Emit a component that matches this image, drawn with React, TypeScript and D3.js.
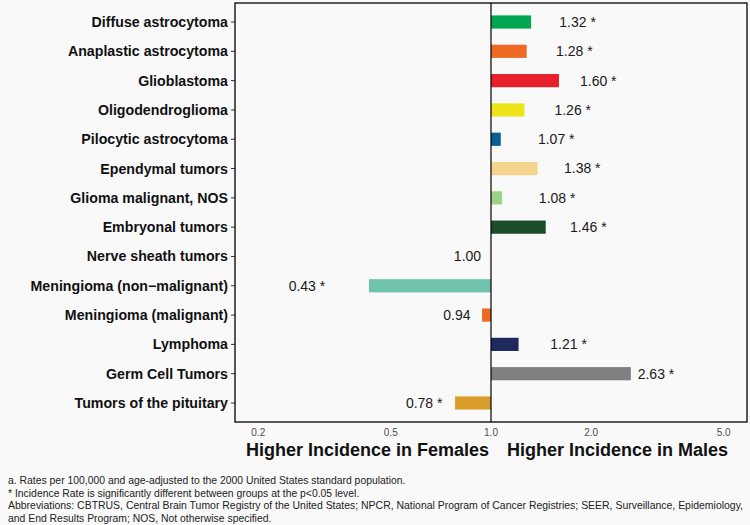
import React from "react";
import * as d3 from "d3";

const categories = [
  "Diffuse astrocytoma",
  "Anaplastic astrocytoma",
  "Glioblastoma",
  "Oligodendroglioma",
  "Pilocytic astrocytoma",
  "Ependymal tumors",
  "Glioma malignant, NOS",
  "Embryonal tumors",
  "Nerve sheath tumors",
  "Meningioma (non\u2212malignant)",
  "Meningioma (malignant)",
  "Lymphoma",
  "Germ Cell Tumors",
  "Tumors of the pituitary",
];
const ratios = [1.32, 1.28, 1.6, 1.26, 1.07, 1.38, 1.08, 1.46, 1.0, 0.43, 0.94, 1.21, 2.63, 0.78];
const significant = [true, true, true, true, true, true, true, true, false, true, false, true, true, true];
const barColors = [
  "#00a651", "#ee6a24", "#e8202a", "#eee31b", "#0b5e94", "#f5d58e", "#9ed289",
  "#1b4d2a", "#888888", "#70c3ac", "#ee6a24", "#1e2a5e", "#808080", "#d99d2b",
];
const xTicks = [0.2, 0.5, 1.0, 2.0, 5.0];
const footnotes = [
  "a.  Rates per 100,000 and age-adjusted to the 2000 United States standard population.",
  "* Incidence Rate is significantly different between groups at the p<0.05 level.",
  "Abbreviations: CBTRUS, Central Brain Tumor Registry of the United States; NPCR, National Program of Cancer Registries; SEER, Surveillance, Epidemiology,",
  "and End Results Program; NOS, Not otherwise specified.",
];

export default function App() {
  const W = 750, H = 525;
  const left = 235, right = 747, top = 3, bottom = 422;
  const lo = Math.log10(0.2), hi = Math.log10(5);
  const pad = (hi - lo) * 0.05;
  const x = d3.scaleLog().domain([Math.pow(10, lo - pad), Math.pow(10, hi + pad)]).range([left, right]);
  const y = d3
    .scalePoint<string>()
    .domain(categories)
    .range([22, 403]);
  const barH = 13.2;
  const x1 = x(1);

  return (
    <svg width={W} height={H} style={{ position: "absolute", left: 0, top: 0, background: "#f9f9f9" }}>
      <rect x={0} y={0} width={W} height={H} fill="#f9f9f9" />
      {categories.map((c, i) => {
        const v = ratios[i];
        const xv = x(v);
        const yy = y(c) as number;
        const labelX = v > 1 ? x(v + 0.5) : x(v - 0.15);
        return (
          <g key={c}>
            {v !== 1 && (
              <rect
                x={Math.min(xv, x1)}
                y={yy - barH / 2}
                width={Math.abs(xv - x1)}
                height={barH}
                fill={barColors[i]}
              />
            )}
            <text
              x={labelX}
              y={yy}
              dy="0.35em"
              textAnchor="middle"
              fontFamily="Liberation Sans, Arial, sans-serif"
              fontSize={14}
              fill="#1a1a1a"
            >
              {v.toFixed(2) + (significant[i] ? " *" : "")}
            </text>
            <line x1={left - 4} x2={left} y1={yy} y2={yy} stroke="#333" strokeWidth={1} />
            <text
              x={left - 7}
              y={yy}
              dy="0.35em"
              textAnchor="end"
              fontFamily="Liberation Sans, Arial, sans-serif"
              fontWeight="bold"
              fontSize={14.2}
              fill="#111"
            >
              {c}
            </text>
          </g>
        );
      })}
      <line x1={x1} x2={x1} y1={top} y2={bottom} stroke="#000" strokeWidth={1.2} />
      <rect x={left} y={top} width={right - left} height={bottom - top} fill="none" stroke="#000" strokeWidth={1.3} />
      {xTicks.map((t) => (
        <text
          key={t}
          x={x(t)}
          y={436}
          textAnchor="middle"
          fontFamily="Liberation Sans, Arial, sans-serif"
          fontSize={10}
          fill="#4d4d4d"
        >
          {t.toFixed(1)}
        </text>
      ))}
      <text x={x1 - 2} y={456} textAnchor="end" fontFamily="Liberation Sans, Arial, sans-serif" fontWeight="bold" fontSize={18} fill="#111">
        Higher Incidence in Females
      </text>
      <text x={x1 + 16} y={456} textAnchor="start" fontFamily="Liberation Sans, Arial, sans-serif" fontWeight="bold" fontSize={18} fill="#111">
        Higher Incidence in Males
      </text>
      {footnotes.map((f, i) => (
        <text
          key={i}
          x={8}
          y={484 + i * 12.6}
          fontFamily="Liberation Sans, Arial, sans-serif"
          fontSize={10.4}
          fill="#222"
          textLength={i === 2 ? 735 : undefined}
          lengthAdjust="spacingAndGlyphs"
        >
          {f}
        </text>
      ))}
    </svg>
  );
}
